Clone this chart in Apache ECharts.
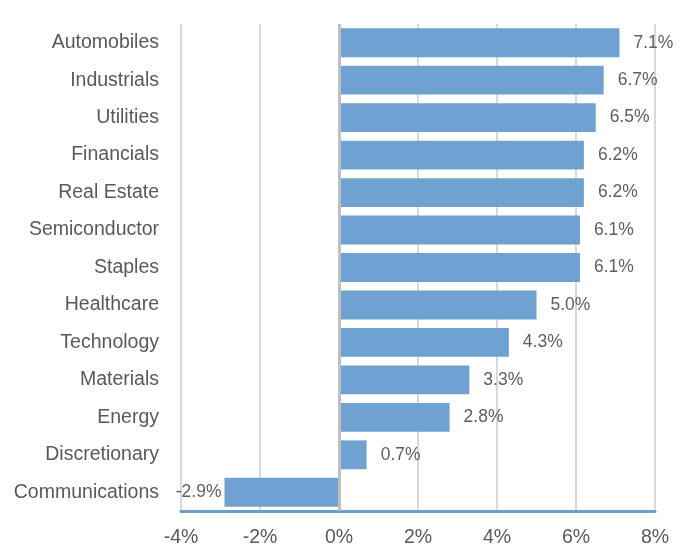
<!DOCTYPE html>
<html>
<head>
<meta charset="utf-8">
<script src="https://cdn.jsdelivr.net/npm/echarts@6/dist/echarts.min.js"></script>
<style>
  html, body { margin: 0; padding: 0; background: #fff; }
  #main { width: 689px; height: 550px; }
</style>
</head>
<body>
<div id="main"></div>
<script>
// sectors, top to bottom
const sectors = ['Automobiles', 'Industrials', 'Utilities', 'Financials', 'Real Estate',
  'Semiconductor', 'Staples', 'Healthcare', 'Technology', 'Materials', 'Energy',
  'Discretionary', 'Communications'];
const returns = [7.1, 6.7, 6.5, 6.2, 6.2, 6.1, 6.1, 5.0, 4.3, 3.3, 2.8, 0.7, -2.9];

const barColor = '#6a9fcf';
const textColor = '#595959';
const fontName = '"Liberation Sans", Arial, sans-serif';

let chart = echarts.init(document.getElementById('main'), null, { renderer: 'canvas' });

const option = {
  animation: false,
  grid: { left: 181, right: 34, top: 24, bottom: 39, containLabel: false, outerBoundsMode: 'none' },
  xAxis: {
    type: 'value',
    min: -4,
    max: 8,
    interval: 2,
    axisLine: { show: true, onZero: false, lineStyle: { color: barColor, width: 3 } },
    axisTick: { show: false },
    splitLine: { show: true, lineStyle: { color: '#d9d9d9', width: 2 } },
    axisLabel: {
      formatter: v => v + '%',
      color: textColor,
      fontSize: 19.5,
      fontFamily: fontName,
      margin: 17
    }
  },
  yAxis: {
    type: 'category',
    inverse: true,
    data: sectors,
    axisLine: { show: false },
    axisTick: { show: false },
    splitLine: { show: false },
    axisLabel: { color: textColor, fontSize: 19.5, fontFamily: fontName, margin: 22, padding: [3, 0, 0, 0] }
  },
  series: [{
    type: 'bar',
    data: returns.map(v => ({
      value: v,
      label: { position: v < 0 ? 'left' : 'right', distance: v < 0 ? 3 : 14 }
    })),
    barCategoryGap: '23%',
    itemStyle: { color: barColor, opacity: 0.97 },
    label: {
      show: true,
      formatter: p => p.value.toFixed(1) + '%',
      color: textColor,
      fontSize: 17.5,
      fontFamily: fontName,
      padding: [3, 0, 0, 0]
    },
    markLine: {
      silent: true,
      symbol: 'none',
      label: { show: false },
      lineStyle: { color: '#bfbfbf', width: 3, type: 'solid' },
      data: [{ xAxis: 0 }]
    }
  }]
};

chart.setOption(option);
</script>
</body>
</html>
